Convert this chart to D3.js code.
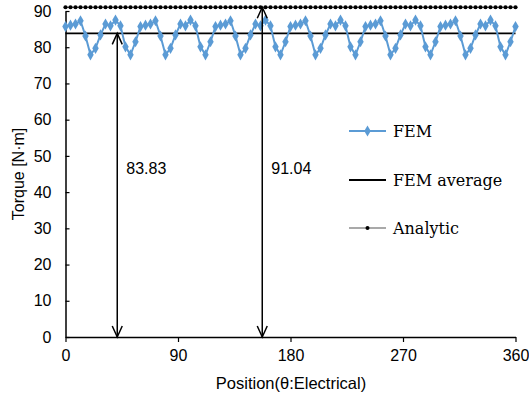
<!DOCTYPE html>
<html><head><meta charset="utf-8">
<script src="https://cdn.jsdelivr.net/npm/d3@7"></script>
<style>body{margin:0;background:#fff}svg{display:block}</style>
</head><body>
<script>
const angles = d3.range(0, 361, 4);
const femValues = [
  85.7, 86.1, 86.4, 87.3, 83.1, 77.9, 79.7, 83.4, 86.4, 85.9, 87.5, 85.9, 80.1, 77.9, 81.5,
  85.7, 86.1, 86.4, 87.3, 83.1, 77.9, 79.7, 83.4, 86.4, 85.9, 87.5, 85.9, 80.1, 77.9, 81.5,
  85.7, 86.1, 86.4, 87.3, 83.1, 77.9, 79.7, 83.4, 86.4, 85.9, 87.5, 85.9, 80.1, 77.9, 81.5,
  85.7, 86.1, 86.4, 87.3, 83.1, 77.9, 79.7, 83.4, 86.4, 85.9, 87.5, 85.9, 80.1, 77.9, 81.5,
  85.7, 86.1, 86.4, 87.3, 83.1, 77.9, 79.7, 83.4, 86.4, 85.9, 87.5, 85.9, 80.1, 77.9, 81.5,
  85.7, 86.1, 86.4, 87.3, 83.1, 77.9, 79.7, 83.4, 86.4, 85.9, 87.5, 85.9, 80.1, 77.9, 81.5,
  85.7
];
const femAverage = 83.83;
const analyticValue = 91.04;
const arrowAngles = [41.4, 157.4];
const arrowValues = [83.83, 91.04];
const arrowLabels = ["83.83", "91.04"];
const xTicks = [0, 90, 180, 270, 360];
const yTicks = [0, 10, 20, 30, 40, 50, 60, 70, 80, 90];
const legendNames = ["FEM", "FEM average", "Analytic"];

const W = 529, H = 396;
const svg = d3.select("body").append("svg").attr("width", W).attr("height", H);
const x = d3.scaleLinear().domain([0, 360]).range([65.5, 515.5]);
const y = d3.scaleLinear().domain([0, 90]).range([337, 11]);

const blue = "#5B9BD5";
const sans = "Liberation Sans, Arial, sans-serif";
const serif = "DejaVu Serif, serif";

// axes
const xAxis = svg.append("g").attr("transform", `translate(0,${y(0)})`)
  .call(d3.axisBottom(x).tickValues(xTicks).tickSize(5).tickSizeOuter(0));
const yAxis = svg.append("g").attr("transform", `translate(${x(0)},0)`)
  .call(d3.axisLeft(y).tickValues(yTicks).tickSize(-4).tickSizeOuter(0).tickPadding(14));
[xAxis, yAxis].forEach(g => {
  g.select(".domain").attr("stroke", "#000").attr("stroke-width", 1.5);
  g.selectAll(".tick line").attr("stroke", "#000").attr("stroke-width", 1.2);
  g.selectAll("text").attr("font-family", sans).attr("font-size", 16).attr("fill", "#000");
});
xAxis.selectAll("text").attr("dy", "1.0em");

svg.append("text").attr("x", 291).attr("y", 389).attr("text-anchor", "middle")
  .attr("font-family", sans).attr("font-size", 16.5).text("Position(θ:Electrical)");
svg.append("text").attr("transform", `translate(24,174) rotate(-90)`).attr("text-anchor", "middle")
  .attr("font-family", sans).attr("font-size", 16).text("Torque [N·m]");

// analytic
const aData = angles.map(a => ({a, v: analyticValue}));
svg.append("path").datum(aData).attr("fill", "none").attr("stroke", "#444").attr("stroke-width", 1)
  .attr("d", d3.line().x(d => x(d.a)).y(d => y(d.v)));
svg.append("g").selectAll("circle").data(aData).join("circle")
  .attr("cx", d => x(d.a)).attr("cy", d => y(d.v)).attr("r", 2.1).attr("fill", "#000");

// FEM average
svg.append("line").attr("x1", x(0)).attr("x2", x(360)).attr("y1", y(femAverage)).attr("y2", y(femAverage))
  .attr("stroke", "#000").attr("stroke-width", 1.8);

// FEM
const fData = angles.map((a, i) => ({a, v: femValues[i]}));
svg.append("path").datum(fData).attr("fill", "none").attr("stroke", blue).attr("stroke-width", 2)
  .attr("d", d3.line().x(d => x(d.a)).y(d => y(d.v)));
const diamond = d3.symbol().type(d3.symbolDiamond).size(36);
svg.append("g").selectAll("path").data(fData).join("path")
  .attr("transform", d => `translate(${x(d.a)},${y(d.v)})`).attr("d", diamond).attr("fill", blue);

// arrows
arrowAngles.forEach((a, i) => {
  const xa = x(a), yt = y(arrowValues[i]), yb = y(0);
  const g = svg.append("g").attr("stroke", "#000").attr("stroke-width", 1.5).attr("fill", "none");
  g.append("line").attr("x1", xa).attr("x2", xa).attr("y1", yt).attr("y2", yb);
  g.append("path").attr("d", `M${xa - 5},${yt + 11}L${xa},${yt}L${xa + 5},${yt + 11}`);
  g.append("path").attr("d", `M${xa - 5},${yb - 11}L${xa},${yb}L${xa + 5},${yb - 11}`);
  svg.append("text").attr("x", xa + 9).attr("y", 174).attr("font-family", sans).attr("font-size", 16)
    .text(arrowLabels[i]);
});

// legend
const lx1 = 349, lx2 = 386, ly = [131, 180, 228];
legendNames.forEach((n, i) => {
  const g = svg.append("g");
  if (i === 0) {
    g.append("line").attr("x1", lx1).attr("x2", lx2).attr("y1", ly[i]).attr("y2", ly[i]).attr("stroke", blue).attr("stroke-width", 2);
    g.append("path").attr("transform", `translate(${(lx1 + lx2) / 2},${ly[i]})`).attr("d", diamond).attr("fill", blue);
  } else if (i === 1) {
    g.append("line").attr("x1", lx1).attr("x2", lx2).attr("y1", ly[i]).attr("y2", ly[i]).attr("stroke", "#000").attr("stroke-width", 1.8);
  } else {
    g.append("line").attr("x1", lx1).attr("x2", lx2).attr("y1", ly[i]).attr("y2", ly[i]).attr("stroke", "#555").attr("stroke-width", 1.2);
    g.append("circle").attr("cx", (lx1 + lx2) / 2).attr("cy", ly[i]).attr("r", 2).attr("fill", "#000");
  }
  g.append("text").attr("x", 393).attr("y", ly[i]).attr("dy", "0.35em").attr("font-family", serif)
    .attr("font-size", 16).text(n);
});
</script>
</body></html>
